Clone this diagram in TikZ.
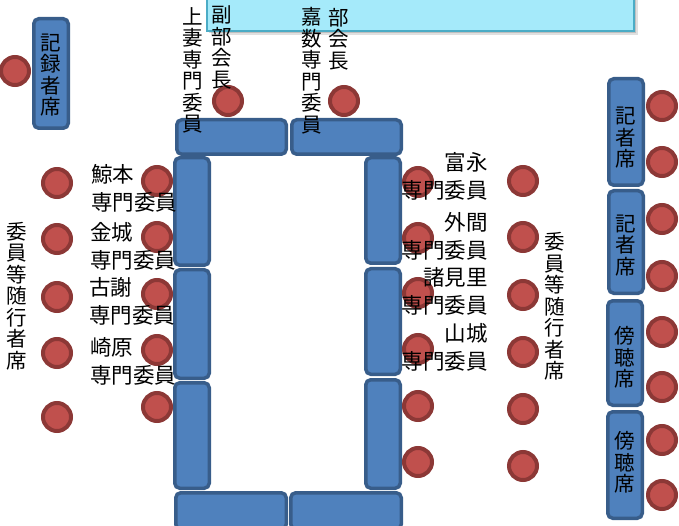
\documentclass[tikz,border=0pt]{standalone}
\usepackage{fontspec}
\newfontfamily\jp{Noto Sans CJK JP}
\definecolor{barfill}{RGB}{165,234,250}
\definecolor{barborder}{RGB}{75,172,198}
\definecolor{tblfill}{RGB}{79,129,189}
\definecolor{tblborder}{RGB}{56,93,138}
\definecolor{chairfill}{RGB}{192,80,77}
\definecolor{chairborder}{RGB}{140,56,54}
\newcommand{\tbl}[4]{\path[tablebox] (#1+1.75,#2+1.75) rectangle (#3-1.75,#4-1.75);}
\begin{document}
\begin{tikzpicture}[x=1pt,y=-1pt,
 tablebox/.style={draw=tblborder, fill=tblfill, line width=3.5pt, rounded corners=5pt},
 chair/.style={circle, draw=chairborder, fill=chairfill, line width=4pt, minimum size=28pt, inner sep=0pt},
 lbl/.style={font=\jp\fontsize{21.5}{28}\selectfont, inner sep=0pt},
 vlbl/.style={font=\jp\fontsize{20.5}{21.5}\selectfont, align=center, inner sep=0pt}]
\useasboundingbox (0,0) rectangle (679,526);
% top bar
\fill[black,opacity=0.12] (211,-10) rectangle (638,35.5);
\fill[black,opacity=0.15] (209,-10) rectangle (636,33.5);
\path[draw=barborder, fill=barfill, line width=1.5pt] (207,-10) rectangle (634,31);
% tables
\tbl{175}{118}{288}{156}
\tbl{290}{118}{403}{156}
\tbl{173}{156}{211}{267}
\tbl{173}{268}{211}{380}
\tbl{173}{381}{211}{490}
\tbl{364}{156}{402}{265}
\tbl{364}{267}{402}{376}
\tbl{364}{378}{402}{490}
\tbl{174}{491}{288}{531}
\tbl{289}{491}{403}{531}
% side boxes
\tbl{32}{17}{70}{130}
\tbl{607}{77}{645}{187}
\tbl{607}{189}{645}{295}
\tbl{606}{299}{644}{407}
\tbl{606}{410}{644}{520}
% chairs
\node[chair] (c0) at (15,71) {};
\node[chair] (c1) at (228,101) {};
\node[chair] (c2) at (344,101) {};
\foreach \y [count=\i] in {181,237,294,350,407} \node[chair] (li\i) at (157,\y) {};
\foreach \y [count=\i] in {183,239,297,353,417} \node[chair] (lo\i) at (57,\y) {};
\foreach \y [count=\i] in {182,238,293,349,406,462} \node[chair] (ri\i) at (418,\y) {};
\foreach \y [count=\i] in {181,237,295,352,409,466} \node[chair] (ro\i) at (523,\y) {};
\foreach \y [count=\i] in {106,162,219,276,332,387,440,495} \node[chair] (fr\i) at (662,\y) {};
% vertical labels
\node[vlbl] (t1) at (51,75) {記\\録\\者\\席};
\node[vlbl] (t2) at (193,70.5) {上\\妻\\専\\門\\委\\員};
\node[vlbl] (t3) at (222,47.5) {副\\部\\会\\長};
\node[vlbl] (t4) at (312,70.5) {嘉\\数\\専\\門\\委\\員};
\node[vlbl] (t5) at (339,39) {部\\会\\長};
\node[vlbl] (t6) at (17,296) {委\\員\\等\\随\\行\\者\\席};
\node[vlbl] (t7) at (555,306.5) {委\\員\\等\\随\\行\\者\\席};
\node[vlbl] (b1) at (626,138) {記\\者\\席};
\node[vlbl] (b2) at (626,245.5) {記\\者\\席};
\node[vlbl] (b3) at (625,357.5) {傍\\聴\\席};
\node[vlbl] (b4) at (625,462.5) {傍\\聴\\席};
% left member labels
\node[lbl, anchor=west, align=left] (k1) at (91,188) {鯨本\\専門委員};
\node[lbl, anchor=west, align=left] (k2) at (90,246) {金城\\専門委員};
\node[lbl, anchor=west, align=left] (k3) at (89,301.5) {古謝\\専門委員};
\node[lbl, anchor=west, align=left] (k4) at (90,361) {崎原\\専門委員};
% right member labels
\node[lbl, anchor=east, align=right] (m1) at (488,176.5) {富永\\専門委員};
\node[lbl, anchor=east, align=right] (m2) at (488,236.5) {外間\\専門委員};
\node[lbl, anchor=east, align=right] (m3) at (488,291) {諸見里\\専門委員};
\node[lbl, anchor=east, align=right] (m4) at (488,347) {山城\\専門委員};
\end{tikzpicture}
\end{document}
